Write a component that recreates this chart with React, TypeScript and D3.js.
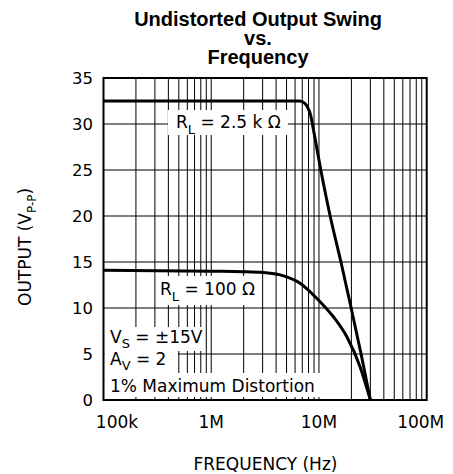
import React from "react";
import * as d3 from "d3";

const titleLines = ["Undistorted Output Swing", "vs.", "Frequency"];
const freqTicks = [1e5, 1e6, 1e7, 1e8];
const freqTickLabels = ["100k", "1M", "10M", "100M"];
const outputTicks = [0, 5, 10, 15, 20, 25, 30, 35];

const rl2k5Freq = [1e5, 1e6, 5e6, 6.6e6, 7.4e6, 8.0e6, 8.4e6, 8.69e6, 10.4e6, 12.7e6, 16.0e6, 19.9e6, 24.6e6, 30e6];
const rl2k5Out = [32.5, 32.5, 32.5, 32.5, 32.25, 31.6, 30.9, 30.0, 25, 20, 15, 10, 5, 0];

const rl100Freq = [1e5, 1e6, 2e6, 3.05e6, 4.35e6, 6.67e6, 10.2e6, 13.6e6, 18.1e6, 24.1e6, 30e6];
const rl100Out = [14.1, 14.0, 13.95, 13.85, 13.6, 12.7, 10.7, 9.05, 6.9, 3.6, 0];

const W = 453;
const H = 474;
const FONT = "'DejaVu Sans', sans-serif";

export default function App() {
  const x = d3.scaleLog().domain([1e5, 1e8]).range([103.5, 426.7]);
  const y = d3.scaleLinear().domain([0, 35]).range([400, 78]);

  const minor: number[] = [];
  for (let dec = 1e5; dec < 1e8; dec *= 10) {
    for (let k = 1; k <= 9; k++) {
      const f = dec * k;
      if (f > 1e5 && f < 1e8) minor.push(f);
    }
  }

  const line = d3
    .line<[number, number]>()
    .x((d) => x(d[0]))
    .y((d) => y(d[1]))
    .curve(d3.curveMonotoneX);

  const c1 = rl2k5Freq.map((f, i) => [f, rl2k5Out[i]] as [number, number]);
  const c2 = rl100Freq.map((f, i) => [f, rl100Out[i]] as [number, number]);

  const [x0, x1] = x.range();
  const [yb, yt] = y.range();

  const labelOffset = (i: number) => (i === 0 ? 13.5 : i === freqTicks.length - 1 ? -6 : 0);

  return (
    <svg
      width={W}
      height={H}
      style={{ position: "absolute", left: 0, top: 0, background: "#fff" }}
    >
      <rect x={0} y={0} width={W} height={H} fill="#fff" />
      {/* title */}
      {titleLines.map((t, i) => (
        <text
          key={t}
          x={258}
          y={25.5 + i * 19}
          textAnchor="middle"
          fontFamily="'Liberation Sans', Arial, sans-serif"
          fontWeight="bold"
          fontSize={20}
        >
          {t}
        </text>
      ))}
      {/* horizontal grid */}
      {outputTicks.map((v) => (
        <line key={"h" + v} x1={x0} x2={x1} y1={y(v)} y2={y(v)} stroke="#000" strokeWidth={1} />
      ))}
      {/* vertical grid */}
      {minor.map((f) => (
        <line key={"v" + f} x1={x(f)} x2={x(f)} y1={yb} y2={yt} stroke="#000" strokeWidth={1} />
      ))}
      {/* label boxes */}
      <rect x={168} y={110} width={120} height={25} fill="#fff" />
      <rect x={158} y={276} width={99} height={29} fill="#fff" />
      <rect x={x0 + 1} y={327} width={203 - x0 - 1} height={24} fill="#fff" />
      <rect x={x0 + 1} y={350} width={178 - x0 - 1} height={24} fill="#fff" />
      <rect x={x0 + 1} y={373} width={327 - x0 - 1} height={24} fill="#fff" />
      {/* frame */}
      <rect x={x0} y={yt} width={x1 - x0} height={yb - yt} fill="none" stroke="#000" strokeWidth={2} />
      {/* curves */}
      <path d={line(c1) || ""} fill="none" stroke="#000" strokeWidth={3} />
      <path d={line(c2) || ""} fill="none" stroke="#000" strokeWidth={3} />
      {/* y tick labels */}
      {outputTicks.map((v) => (
        <text key={"yl" + v} x={93} y={y(v) + 6} textAnchor="end" fontFamily={FONT} fontSize={16.5}>
          {v}
        </text>
      ))}
      {/* x tick labels */}
      {freqTicks.map((f, i) => (
        <text
          key={"xl" + f}
          x={x(f) + labelOffset(i)}
          y={428}
          textAnchor="middle"
          fontFamily={FONT}
          fontSize={17}
        >
          {freqTickLabels[i]}
        </text>
      ))}
      {/* axis titles */}
      <text x={265.5} y={470} textAnchor="middle" fontFamily={FONT} fontSize={17}>
        FREQUENCY (Hz)
      </text>
      <text
        transform="translate(31,306) rotate(-90)"
        x={0}
        y={0}
        textAnchor="start"
        fontFamily={FONT}
        fontSize={17}
      >
        OUTPUT (V
        <tspan fontSize={12} dy={5}>P-P</tspan>
        <tspan dy={-5}>)</tspan>
      </text>
      {/* annotations */}
      <text x={176} y={128.3} fontFamily={FONT} fontSize={17}>
        R<tspan fontSize={13} dy={6}>L</tspan>
        <tspan dy={-6}> = 2.5 k Ω</tspan>
      </text>
      <text x={160} y={295} fontFamily={FONT} fontSize={17}>
        R<tspan fontSize={13} dy={6}>L</tspan>
        <tspan dy={-6}> = 100 Ω</tspan>
      </text>
      <text x={110} y={343.3} fontFamily={FONT} fontSize={17}>
        V<tspan fontSize={13} dy={5}>S</tspan>
        <tspan dy={-5}> = ±15V</tspan>
      </text>
      <text x={110} y={365} fontFamily={FONT} fontSize={17}>
        A<tspan fontSize={13} dy={5}>V</tspan>
        <tspan dy={-5}> = 2</tspan>
      </text>
      <text x={110} y={391.7} fontFamily={FONT} fontSize={17}>
        1% Maximum Distortion
      </text>
    </svg>
  );
}
